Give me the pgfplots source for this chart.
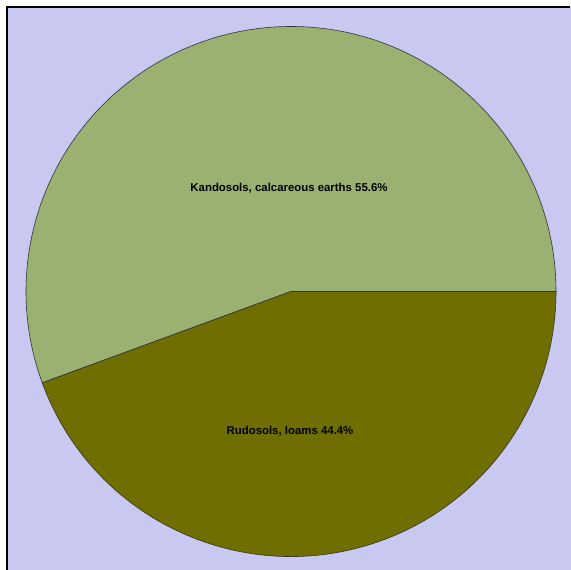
\documentclass[border=0pt]{standalone}
\usepackage{pgfplots}
\usepackage{pgfplotstable}
\pgfplotsset{compat=1.18}
\usepackage{fontspec}
\setmainfont{Liberation Sans}
\definecolor{bgcol}{RGB}{200,200,240}
\definecolor{kandcol}{RGB}{155,177,114}
\definecolor{rudocol}{RGB}{111,110,0}
\pgfplotstableread{
label value
Kandosols 55.6
Rudosols 44.4
}\soiltable
\begin{document}
\begin{tikzpicture}
\pgfplotstablegetelem{0}{value}\of\soiltable \let\valA\pgfplotsretval
\pgfplotstablegetelem{1}{value}\of\soiltable \let\valB\pgfplotsretval
\pgfmathsetmacro{\angA}{3.6*\valA}
\begin{axis}[
  x=1pt, y=1pt, xmin=0, xmax=571, ymin=0, ymax=570,
  hide axis, scale only axis, clip=false,
  anchor=south west, at={(0,0)},
]
\fill[white] (axis cs:0,0) rectangle (axis cs:571,570);
\fill[bgcol] (axis cs:7,0) rectangle (axis cs:571,563);
\draw[black, line width=1.2pt] (axis cs:7,0) -- (axis cs:7,563) -- (axis cs:570,563);
\filldraw[fill=kandcol, draw=black!80, line width=0.6pt]
  (axis cs:291,278.5) -- ++(0:265pt) arc[start angle=0, end angle=\angA, radius=265pt] -- cycle;
\filldraw[fill=rudocol, draw=black!80, line width=0.6pt]
  (axis cs:291,278.5) -- ++(\angA:265pt) arc[start angle=\angA, end angle=360, radius=265pt] -- cycle;
\node[font=\fontsize{11.4}{13}\selectfont\bfseries, text=black] at (axis cs:289,382) {Kandosols, calcareous earths \valA\%};
\node[font=\fontsize{11.4}{13}\selectfont\bfseries, text=black] at (axis cs:290,139) {Rudosols, loams \valB\%};
\end{axis}
\pgfresetboundingbox
\path[use as bounding box] (0,0) rectangle (571pt,570pt);
\end{tikzpicture}
\end{document}
